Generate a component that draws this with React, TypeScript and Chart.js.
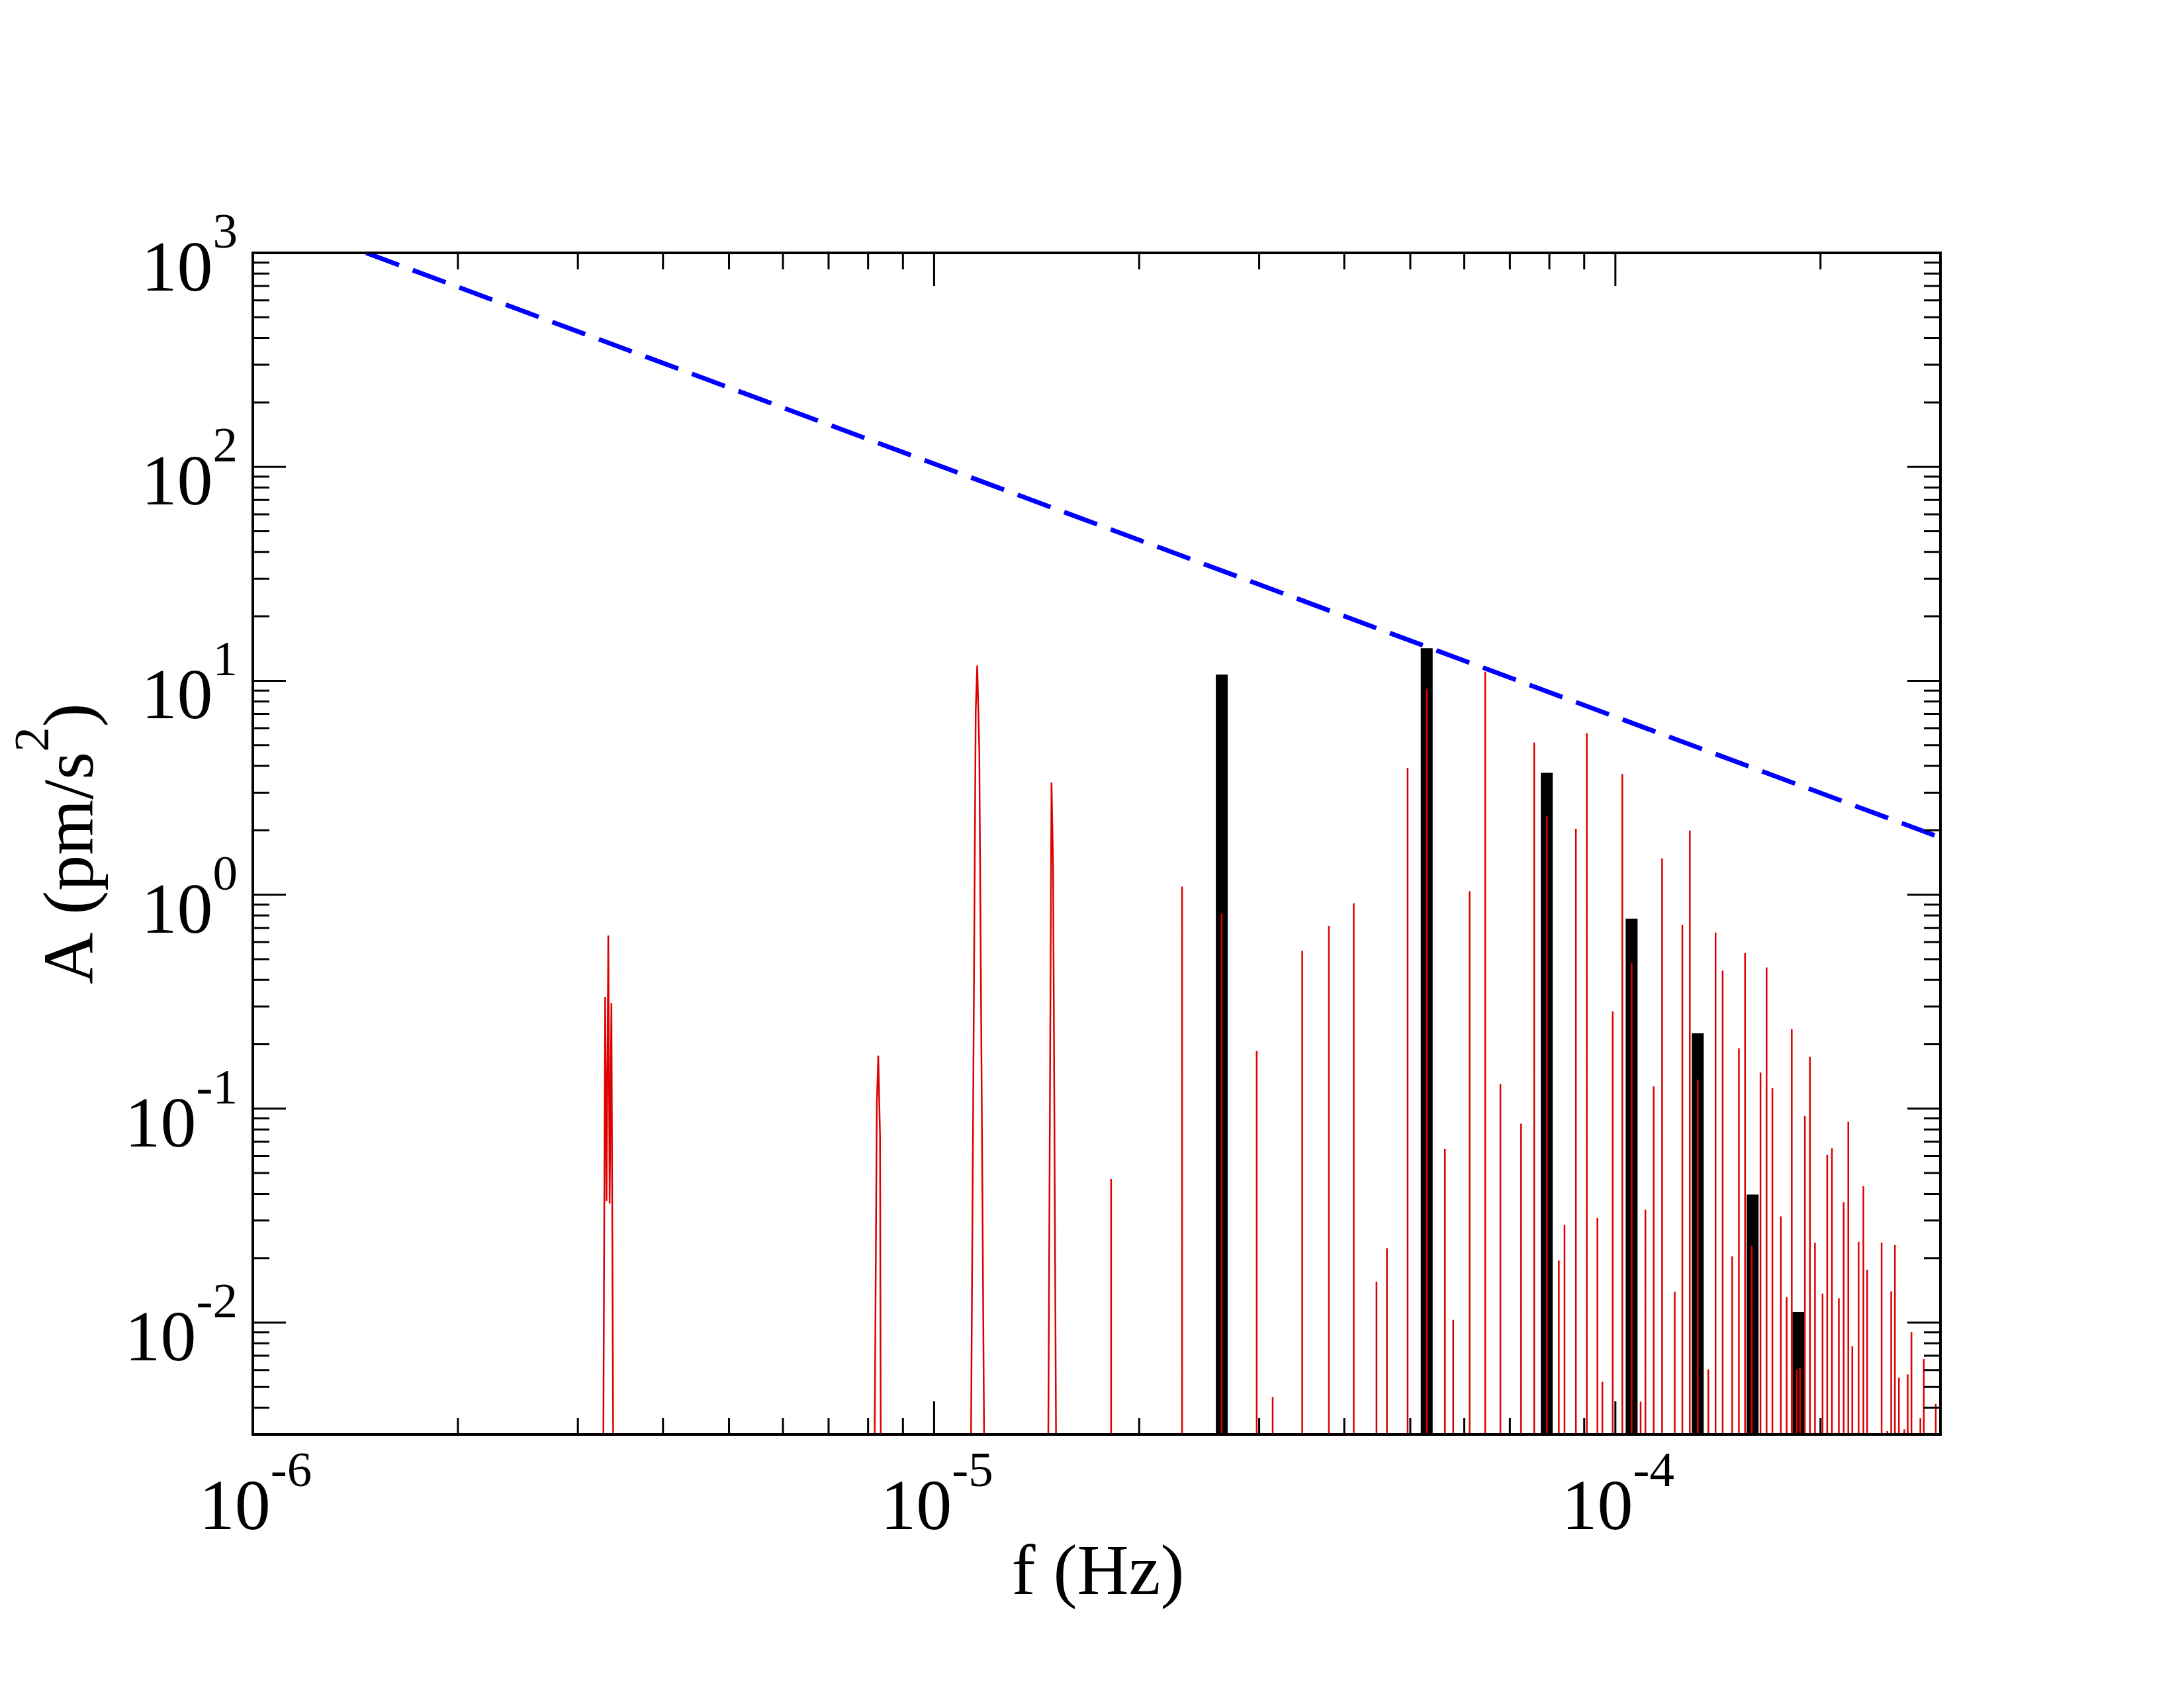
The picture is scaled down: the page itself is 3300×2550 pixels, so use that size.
import React, { useEffect, useRef } from "react";
import { Chart, registerables } from "chart.js";

Chart.register(...registerables);

// ---------- axis ranges ----------
const X_MIN = 1e-6;
const X_MAX = 3e-4;
const Y_MIN = 3e-3;
const Y_MAX = 1e3;
const DEEP = 1e-4; // below the visible range, used to bring spikes back down

// ---------- tick labels ----------
const xMajorVals = [1e-6, 1e-5, 1e-4];
const xMajorExps = ["-6", "-5", "-4"];
const yMajorVals = [1e-2, 1e-1, 1, 10, 100, 1000];
const yMajorExps = ["-2", "-1", "0", "1", "2", "3"];

// ---------- blue dashed bound ----------
const boundF = [1.467e-6, 3.0e-4];
const boundA = [1000, 1.85];

// ---------- black harmonics ----------
const blackF = [2.644e-5, 5.285e-5, 7.93e-5, 1.0564e-4, 1.321e-4, 1.59e-4, 1.856e-4];
const blackA = [10.7, 14.2, 3.71, 0.773, 0.225, 0.0397, 0.0112];

// ---------- red: resolved low-frequency peaks (vertices, bases on the axis) ----------
const clusterF = [
  [3.27e-6, 3.29e-6, 3.305e-6, 3.325e-6, 3.34e-6, 3.36e-6, 3.38e-6],
  [8.18e-6, 8.24e-6, 8.28e-6, 8.33e-6, 8.35e-6],
  [1.133e-5, 1.151e-5, 1.157e-5, 1.165e-5, 1.184e-5],
  [1.471e-5, 1.487e-5, 1.495e-5, 1.51e-5],
];
const clusterA = [
  [0.003, 0.333, 0.037, 0.645, 0.036, 0.312, 0.003],
  [0.003, 0.105, 0.177, 0.074, 0.003],
  [0.003, 7.27, 11.8, 4.77, 0.003],
  [0.003, 3.35, 1.36, 0.003],
];

// ---------- red: narrow spectral lines ----------
const spikeF = [
  1.819e-5, 2.312e-5, 2.643e-5, 2.975e-5, 3.14e-5, 3.47e-5, 3.797e-5, 4.13e-5,
  4.46e-5, 4.62e-5, 4.955e-5, 5.285e-5, 5.62e-5, 5.78e-5, 6.11e-5, 6.44e-5,
  6.78e-5, 7.27e-5, 7.6e-5, 7.93e-5, 8.26e-5, 8.42e-5, 8.75e-5, 9.08e-5,
  9.41e-5, 9.57e-5, 9.91e-5, 1.0237e-4, 1.0564e-4, 1.089e-4, 1.1068e-4, 1.138e-4,
  1.171e-4, 1.222e-4, 1.254e-4, 1.286e-4, 1.321e-4, 1.369e-4, 1.403e-4, 1.437e-4,
  1.484e-4, 1.518e-4, 1.55e-4, 1.585e-4, 1.633e-4, 1.667e-4, 1.7e-4, 1.749e-4,
  1.784e-4, 1.815e-4, 1.846e-4, 1.866e-4, 1.897e-4, 1.93e-4, 1.963e-4, 2.014e-4,
  2.046e-4, 2.079e-4, 2.128e-4, 2.163e-4, 2.197e-4, 2.227e-4, 2.275e-4, 2.312e-4,
  2.342e-4, 2.459e-4, 2.507e-4, 2.54e-4, 2.572e-4, 2.607e-4, 2.655e-4, 2.686e-4,
  2.72e-4, 2.803e-4, 2.836e-4, 2.953e-4,
];
const spikeA = [
  0.0469, 1.092, 0.818, 0.186, 0.00449, 0.546, 0.714, 0.913,
  0.01553, 0.0223, 3.914, 9.18, 0.0648, 0.0103, 1.038, 11.03,
  0.1304, 0.0851, 5.14, 2.34, 0.0195, 0.0286, 2.034, 5.68,
  0.0308, 0.00529, 0.2846, 3.665, 0.48, 0.00427, 0.0337, 0.127,
  1.478, 0.01392, 0.724, 1.995, 0.1368, 0.00604, 0.665, 0.4417,
  0.0204, 0.1916, 0.5336, 0.0229, 0.1475, 0.457, 0.1245, 0.0314,
  0.01318, 0.2355, 0.00604, 0.00614, 0.0925, 0.1747, 0.0236, 0.01366,
  0.0608, 0.0653, 0.013, 0.0365, 0.0869, 0.00777, 0.0239, 0.0434,
  0.01764, 0.0237, 0.00311, 0.014, 0.023, 0.00553, 0.00317, 0.00573,
  0.00903, 0.00358, 0.00676, 0.00417,
];

// ---------- style constants ----------
const FONT_FAMILY = "'Liberation Serif', 'Times New Roman', serif";
const MAIN_FONT = `108px ${FONT_FAMILY}`;
const SUP_FONT = `75px ${FONT_FAMILY}`;
const SUP_RAISE = 65;

type P = { x: number; y: number };

function buildRed(): P[] {
  const groups: P[][] = [];
  clusterF.forEach((fs, i) => {
    const g = fs.map((f, j) => ({ x: f, y: clusterA[i][j] }));
    groups.push([{ x: fs[0], y: DEEP }, ...g, { x: fs[fs.length - 1], y: DEEP }]);
  });
  spikeF.forEach((f, i) => {
    groups.push([{ x: f, y: DEEP }, { x: f, y: spikeA[i] }, { x: f, y: DEEP }]);
  });
  groups.sort((a, b) => a[0].x - b[0].x);
  return groups.flat();
}

function buildBlack(): P[] {
  const out: P[] = [];
  blackF.forEach((f, i) => {
    out.push({ x: f, y: DEEP }, { x: f, y: blackA[i] }, { x: f, y: DEEP });
  });
  return out;
}

function minorValues(lo: number, hi: number): number[] {
  const out: number[] = [];
  for (let e = Math.floor(Math.log10(lo)) - 1; e <= Math.ceil(Math.log10(hi)); e++) {
    for (let k = 2; k <= 9; k++) {
      const v = k * Math.pow(10, e);
      if (v >= lo * 0.9999 && v <= hi * 1.0001) out.push(v);
    }
  }
  return out;
}

function drawPow(ctx: CanvasRenderingContext2D, exp: string, anchor: number, baseline: number, align: "center" | "right") {
  ctx.font = MAIN_FONT;
  const wBase = ctx.measureText("10").width;
  ctx.font = SUP_FONT;
  const wSup = ctx.measureText(exp).width;
  const total = wBase + wSup;
  const x0 = align === "center" ? anchor - total / 2 : anchor - total;
  ctx.textAlign = "left";
  ctx.textBaseline = "alphabetic";
  ctx.font = MAIN_FONT;
  ctx.fillText("10", x0, baseline);
  ctx.font = SUP_FONT;
  ctx.fillText(exp, x0 + wBase, baseline - SUP_RAISE);
}

const framePlugin = {
  id: "frameAndLabels",
  afterDatasetsDraw(chart: any) {
    const ctx: CanvasRenderingContext2D = chart.ctx;
    const { left, right, top, bottom } = chart.chartArea;
    const xs = chart.scales.x;
    const ys = chart.scales.y;
    ctx.save();
    ctx.strokeStyle = "#000";
    ctx.fillStyle = "#000";
    ctx.lineCap = "butt";

    // ticks (inward, all four sides)
    ctx.lineWidth = 3;
    ctx.beginPath();
    const xTicks: [number, number][] = [
      ...xMajorVals.map((v) => [v, 50] as [number, number]),
      ...minorValues(X_MIN, X_MAX).map((v) => [v, 25] as [number, number]),
    ];
    xTicks.forEach(([v, len]) => {
      const px = xs.getPixelForValue(v);
      ctx.moveTo(px, bottom);
      ctx.lineTo(px, bottom - len);
      ctx.moveTo(px, top);
      ctx.lineTo(px, top + len);
    });
    const yTicks: [number, number][] = [
      ...yMajorVals.map((v) => [v, 50] as [number, number]),
      ...minorValues(Y_MIN, Y_MAX).map((v) => [v, 25] as [number, number]),
    ];
    yTicks.forEach(([v, len]) => {
      const py = ys.getPixelForValue(v);
      ctx.moveTo(left, py);
      ctx.lineTo(left + len, py);
      ctx.moveTo(right, py);
      ctx.lineTo(right - len, py);
    });
    ctx.stroke();

    // frame
    ctx.lineWidth = 4;
    ctx.strokeRect(left, top, right - left, bottom - top);

    // x tick labels
    xMajorVals.forEach((v, i) => {
      const px = xs.getPixelForValue(v);
      drawPow(ctx, xMajorExps[i], px + 4, bottom + 143, "center");
    });
    // y tick labels
    yMajorVals.forEach((v, i) => {
      const py = ys.getPixelForValue(v);
      drawPow(ctx, yMajorExps[i], left - 23, py + 57, "right");
    });

    // x title
    ctx.font = MAIN_FONT;
    ctx.textAlign = "center";
    ctx.textBaseline = "alphabetic";
    ctx.fillText("f (Hz)", (left + right) / 2 + 2, bottom + 241);

    // y title (rotated, with superscript)
    ctx.save();
    ctx.translate(140, (top + bottom) / 2);
    ctx.rotate(-Math.PI / 2);
    ctx.textAlign = "left";
    ctx.font = MAIN_FONT;
    const p1 = "A (pm/s";
    const p3 = ")";
    const w1 = ctx.measureText(p1).width;
    const w3 = ctx.measureText(p3).width;
    ctx.font = SUP_FONT;
    const w2 = ctx.measureText("2").width;
    const start = -(w1 + w2 + w3) / 2;
    ctx.font = MAIN_FONT;
    ctx.fillText(p1, start, 0);
    ctx.font = SUP_FONT;
    ctx.fillText("2", start + w1, -67);
    ctx.font = MAIN_FONT;
    ctx.fillText(p3, start + w1 + w2, 0);
    ctx.restore();

    ctx.restore();
  },
};

export default function App() {
  const ref = useRef<HTMLCanvasElement>(null);

  useEffect(() => {
    if (!ref.current) return;
    const blueData = boundF.map((f, i) => ({ x: f, y: boundA[i] }));
    const chart = new Chart(ref.current, {
      type: "line",
      data: {
        datasets: [
          {
            label: "bound",
            data: blueData,
            borderColor: "#0000ff",
            borderWidth: 7,
            borderDash: [53, 22],
            pointRadius: 0,
            fill: false,
            tension: 0,
            clip: 0,
          } as any,
          {
            label: "red",
            data: buildRed(),
            borderColor: "#dd0000",
            borderWidth: 2.5,
            pointRadius: 0,
            fill: false,
            tension: 0,
            clip: 0,
          } as any,
          {
            label: "black",
            data: buildBlack(),
            borderColor: "#000000",
            borderWidth: 18,
            pointRadius: 0,
            fill: false,
            tension: 0,
            clip: 0,
          } as any,
        ],
      },
      options: {
        responsive: false,
        animation: false,
        devicePixelRatio: 1,
        events: [],
        layout: { padding: { left: 382, right: 368, top: 382, bottom: 383 } },
        plugins: {
          legend: { display: false },
          tooltip: { enabled: false },
          title: { display: false },
        },
        scales: {
          x: {
            type: "logarithmic",
            min: X_MIN,
            max: X_MAX,
            bounds: "data",
            display: false,
          },
          y: {
            type: "logarithmic",
            min: Y_MIN,
            max: Y_MAX,
            bounds: "data",
            display: false,
          },
        },
      } as any,
      plugins: [framePlugin],
    });
    return () => chart.destroy();
  }, []);

  return (
    <div style={{ position: "absolute", left: 0, top: 0, width: 3300, height: 2550, background: "#ffffff" }}>
      <canvas ref={ref} width={3300} height={2550} style={{ width: "3300px", height: "2550px", display: "block" }} />
    </div>
  );
}
